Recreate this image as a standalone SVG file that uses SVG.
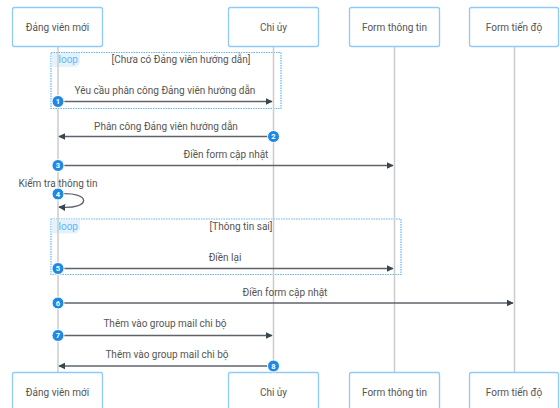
<svg xmlns="http://www.w3.org/2000/svg" width="560" height="408" viewBox="0 0 560 408">
<style>
.actor rect{fill:#fff;stroke:#90caf9;stroke-width:1.3}
.actor text{font-family:Roboto,"Liberation Sans",sans-serif;font-size:10px;fill:#555;text-anchor:middle;dominant-baseline:central}
.life{stroke:#ccc;stroke-width:1.5}
.msg{stroke:#5f6368;stroke-width:1.4;fill:none}
.lbl{font-family:Roboto,"Liberation Sans",sans-serif;font-size:10px;fill:#555;text-anchor:middle}
.loopbox{fill:none;stroke:#64b5f6;stroke-width:1.2;stroke-dasharray:1.5 1}
.looptab{fill:#e3f2fd}
.looplbl{font-family:Roboto,"Liberation Sans",sans-serif;font-size:10px;fill:#64b5f6}
.cond{font-family:Roboto,"Liberation Sans",sans-serif;font-size:10px;fill:#555;text-anchor:middle}
.num circle{fill:#1e88e5;stroke:#fff;stroke-width:1}
.num text{font-family:Roboto,"Liberation Sans",sans-serif;font-size:7.5px;font-weight:bold;fill:#fff;text-anchor:middle;dominant-baseline:central}
</style>
<defs>
<marker id="ah" viewBox="0 0 10 10" refX="9" refY="5" markerWidth="7" markerHeight="7" orient="auto-start-reverse" markerUnits="userSpaceOnUse">
<path d="M0,0 L10,5 L0,10 z" fill="#37474f"/>
</marker>
</defs>

<g id="loops">
<rect class="loopbox" x="51" y="52.5" width="230" height="56"/>
<path class="looptab" d="M51.5,53 H80 V63 L76,67 H51.5 z"/>
<text class="looplbl" x="58.5" y="63">loop</text>
<text class="cond" x="181" y="63">[Chưa có Đảng viên hướng dẫn]</text>
<rect class="loopbox" x="51" y="219" width="350" height="55.5"/>
<path class="looptab" d="M51.5,219.5 H80 V229.5 L76,233.5 H51.5 z"/>
<text class="looplbl" x="58.5" y="229.5">loop</text>
<text class="cond" x="241" y="229.5">[Thông tin sai]</text>
</g>

<g id="lifelines">
<line class="life" x1="58" y1="46" x2="58" y2="373"/>
<line class="life" x1="273.5" y1="46" x2="273.5" y2="373"/>
<line class="life" x1="394.5" y1="46" x2="394.5" y2="373"/>
<line class="life" x1="514.5" y1="46" x2="514.5" y2="373"/>
</g>

<g id="dang-vien-moi-top" class="actor"><rect x="12.5" y="7.5" width="90" height="39" rx="2"/><text x="57.5" y="27">Đảng viên mới</text></g>
<g id="chi-uy-top" class="actor"><rect x="228.5" y="7.5" width="90" height="39" rx="2"/><text x="273.5" y="27">Chi ủy</text></g>
<g id="form-thong-tin-top" class="actor"><rect x="349.5" y="7.5" width="90" height="39" rx="2"/><text x="394.5" y="27">Form thông tin</text></g>
<g id="form-tien-do-top" class="actor"><rect x="469.5" y="7.5" width="89" height="39" rx="2"/><text x="514" y="27">Form tiến độ</text></g>

<g id="dang-vien-moi-bottom" class="actor"><rect x="12.5" y="372.5" width="90" height="39" rx="2"/><text x="57.5" y="392">Đảng viên mới</text></g>
<g id="chi-uy-bottom" class="actor"><rect x="228.5" y="372.5" width="90" height="39" rx="2"/><text x="273.5" y="392">Chi ủy</text></g>
<g id="form-thong-tin-bottom" class="actor"><rect x="349.5" y="372.5" width="90" height="39" rx="2"/><text x="394.5" y="392">Form thông tin</text></g>
<g id="form-tien-do-bottom" class="actor"><rect x="469.5" y="372.5" width="89" height="39" rx="2"/><text x="514" y="392">Form tiến độ</text></g>

<g id="connectors">
<line class="msg" x1="58" y1="101.5" x2="272" y2="101.5" marker-end="url(#ah)"/>
<text class="lbl" x="165" y="94">Yêu cầu phân công Đảng viên hướng dẫn</text>
<line class="msg" x1="273" y1="136.5" x2="59" y2="136.5" marker-end="url(#ah)"/>
<text class="lbl" x="166" y="129.5">Phân công Đảng viên hướng dẫn</text>
<line class="msg" x1="58" y1="165.5" x2="393" y2="165.5" marker-end="url(#ah)"/>
<text class="lbl" x="226" y="158">Điền form cập nhật</text>
<path class="msg" d="M58,194 C92,191 92,210 59,207" marker-end="url(#ah)"/>
<text class="lbl" x="58" y="187">Kiểm tra thông tin</text>
<line class="msg" x1="58" y1="268.5" x2="393" y2="268.5" marker-end="url(#ah)"/>
<text class="lbl" x="225" y="261">Điền lại</text>
<line class="msg" x1="58" y1="303" x2="513" y2="303" marker-end="url(#ah)"/>
<text class="lbl" x="285" y="295.5">Điền form cập nhật</text>
<line class="msg" x1="58" y1="335.5" x2="272" y2="335.5" marker-end="url(#ah)"/>
<text class="lbl" x="165" y="327">Thêm vào group mail chi bộ</text>
<line class="msg" x1="273" y1="366" x2="59" y2="366" marker-end="url(#ah)"/>
<text class="lbl" x="167" y="358">Thêm vào group mail chi bộ</text>
</g>

<g id="sequence-numbers" class="num">
<g><circle cx="58" cy="101.5" r="6"/><text x="58" y="101.5">1</text></g>
<g><circle cx="273.5" cy="136.5" r="6"/><text x="273.5" y="136.5">2</text></g>
<g><circle cx="58" cy="165.5" r="6"/><text x="58" y="165.5">3</text></g>
<g><circle cx="58" cy="194" r="6"/><text x="58" y="194">4</text></g>
<g><circle cx="58" cy="268.5" r="6"/><text x="58" y="268.5">5</text></g>
<g><circle cx="58" cy="303" r="6"/><text x="58" y="303">6</text></g>
<g><circle cx="58" cy="335.5" r="6"/><text x="58" y="335.5">7</text></g>
<g><circle cx="273.5" cy="366" r="6"/><text x="273.5" y="366">8</text></g>
</g>
</svg>
